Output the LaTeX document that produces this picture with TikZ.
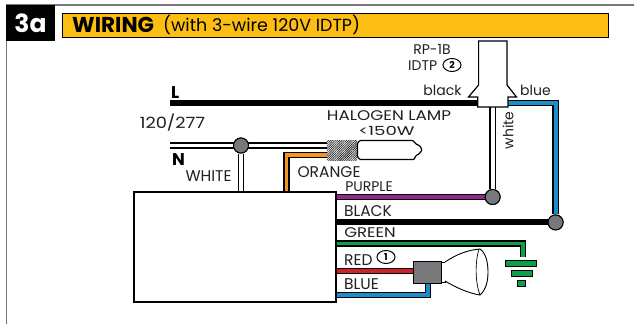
\documentclass[tikz,border=0pt]{standalone}
\usepackage{fontspec}
\setmainfont{Poppins}
\usetikzlibrary{patterns.meta,calc,shapes.geometric}
\definecolor{barY}{HTML}{FDBE14}
\definecolor{wOrange}{HTML}{F7941D}
\definecolor{wPurple}{HTML}{92278F}
\definecolor{wGreen}{HTML}{0F9D4A}
\definecolor{wRed}{HTML}{D2202A}
\definecolor{wBlue}{HTML}{1C8CCB}
\definecolor{jGray}{HTML}{77787B}
\definecolor{txt}{HTML}{231F20}
\tikzset{
  x=1pt,y=-1pt,
  wire/.style={line cap=butt,line join=miter,draw=black,line width=1.2pt,double=#1,double distance=3.9pt},
  heavy/.style={line cap=butt,draw=black,line width=6pt},
  junction/.style={circle,draw=black,line width=1pt,fill=jGray,minimum size=15pt,inner sep=0pt},
  lbl/.style={inner sep=0pt,text=txt,font=\fontsize{15.5}{16}\selectfont},
  lbs/.style={inner sep=0pt,text=txt,font=\fontsize{14}{14}\selectfont},
  boldlbl/.style={inner sep=0pt,text=black,font=\fontsize{17}{17}\selectfont\bfseries},
  numcirc/.style={ellipse,draw=black,line width=1pt,minimum width=18pt,minimum height=13pt,inner sep=0pt,font=\fontsize{9.5}{9.5}\selectfont\bfseries},
  gbar/.style={draw=black,line width=1pt,fill=wGreen,inner sep=0pt},
  solid box/.style={draw=black,line width=1.6pt,fill=white,inner sep=0pt},
}
\begin{document}
\begin{tikzpicture}
\useasboundingbox (0,0) rectangle (634,324);
\fill[white] (0,0) rectangle (634,324);
% frame
\draw[draw=jGray,line width=1.1pt] (6.5,324) -- (6.5,5) -- (634,5);
\node[fill=black,minimum width=49pt,minimum height=36pt,inner sep=0pt,anchor=north west] (tag) at (6,5) {};
\node[text=white,inner sep=0pt,font=\fontsize{25}{25}\selectfont\bfseries] (taglbl) at (30.5,23) {3a};
\node[fill=barY,draw=black,line width=1.6pt,minimum width=546pt,minimum height=24pt,inner sep=0pt,anchor=north west] (bar) at (61.8,12.5) {};
\node[anchor=west,inner sep=0pt,text=black,font=\fontsize{21.5}{22}\selectfont\bfseries] (title) at (72,25) {WIRING};
\node[anchor=west,inner sep=0pt,text=black,font=\fontsize{17.5}{18}\selectfont] (title2) at (163,25) {(with 3-wire 120V IDTP)};
% anchors
\node[solid box,minimum width=202pt,minimum height=110pt,anchor=north west] (ctrl) at (133,191) {};
\node[junction] (jN) at (241,145.5) {};
\node[junction] (jP) at (492.6,197) {};
\node[junction] (jB) at (555.6,222.4) {};
\coordinate (Lstart) at (170,103);
\coordinate (Nstart) at (170,145.5);
\coordinate (plugL) at (480,103);
\coordinate (plugR) at (506,103);
\coordinate (plugB) at (492.6,106);
\coordinate (cerN) at (327,145.5);
\coordinate (cerO) at (327,155);
\coordinate (oTurn) at (286.5,155);
\coordinate (gTurn) at (523,243.5);
\coordinate (gEnd) at (523,257);
\coordinate (rEnd) at (413,271.3);
\coordinate (bTurn) at (428,295.3);
\coordinate (bEnd) at (428,282);
\coordinate (bcTurn) at (555.6,103);
% wires
\draw[heavy] (Lstart) -- (plugL);
\draw[wire=white] (Nstart) -- (cerN);
\draw[wire=white] (jN) -- (jN |- ctrl.north);
\draw[wire=wOrange] (oTurn |- ctrl.north) -- (oTurn) -- (cerO);
\draw[wire=white] (plugB) -- (jP);
\draw[wire=wBlue] (plugR) -- (bcTurn) -- (jB);
\draw[wire=wPurple] (ctrl.east |- jP) -- (jP);
\draw[heavy] (ctrl.east |- jB) -- (jB);
\draw[wire=wGreen] (ctrl.east |- gTurn) -- (gTurn) -- (gEnd);
\draw[wire=wRed] (ctrl.east |- rEnd) -- (rEnd);
\draw[wire=wBlue] (ctrl.east |- bTurn) -- (bTurn) -- (bEnd);
\node[junction] at (jN) {};
\node[junction] at (jP) {};
\node[junction] at (jB) {};
% plug
\draw[draw=black,line width=1.2pt,fill=white,line join=miter]
  (478.6,41) -- (507,41) -- (507,85) -- (516.5,97) -- (508,97) -- (508,107) -- (477.7,107) -- (477.7,97) -- (468.5,97) -- (478.6,85) -- cycle;
% halogen lamp
\node[minimum width=30pt,minimum height=20pt,inner sep=0pt,anchor=north west,fill=gray!45,pattern={Lines[angle=45,distance=1.6pt,line width=.75pt]},pattern color=black!85] (cer) at (326.5,140) {};
\draw[draw=black,line width=1.2pt,fill=white,rounded corners=.8pt]
  (360,140.5) -- (413,140.5) -- (416,144) -- (420,146) -- (422,150) -- (419,154) -- (416,155.5) -- (414,159.5) -- (360,159.5) -- (357.5,157) -- (357.5,143) -- cycle;
% bulb
\draw[draw=black,line width=.9pt,fill=white] (441,262) rectangle (445,282);
\draw[draw=black,line width=.9pt,fill=white]
  (445,262) .. controls (457,254) and (468,250) .. (480,249)
  .. controls (486,253) and (488,263) .. (488,272)
  .. controls (488,281) and (486,290) .. (480,295)
  .. controls (468,293) and (457,288) .. (445,281);
\draw[draw=black,line width=.7pt] (479,249) .. controls (475,262) and (475,282) .. (480,295);
\node[draw=black,line width=1.2pt,fill=jGray,minimum width=28pt,minimum height=22pt,inner sep=0pt,anchor=north west] (sock) at (412.5,260.7) {};
% ground
\node[gbar,minimum width=31pt,minimum height=6.5pt] (g1) at (521.3,263.3) {};
\node[gbar,minimum width=21pt,minimum height=6pt] (g2) at (521.5,273.8) {};
\node[gbar,minimum width=8pt,minimum height=6pt] (g3) at (521.5,283.6) {};
% labels
\node[boldlbl,anchor=west] (tL) at (171,92.5) {L};
\node[boldlbl,anchor=west] (tN) at (172,160) {N};
\node[lbl,xscale=1.15] (t120) at (172.5,123) {120/277};
\node[lbl] (tW) at (208.5,176) {WHITE};
\node[lbl] (tO) at (329,172) {ORANGE};
\node[lbs] (tP) at (369,187) {PURPLE};
\node[lbl] (tBk) at (368,211) {BLACK};
\node[lbs,xscale=1.18] (tG) at (370,232.5) {GREEN};
\node[lbl,anchor=west] (tR) at (344,260) {RED};
\node[numcirc] (n1) at (386,257) {1};
\node[lbl,anchor=west] (tBu) at (344,284) {BLUE};
\node[lbs,xscale=1.2] (tH) at (389,116) {HALOGEN LAMP};
\node[inner sep=0pt,text=txt,font=\fontsize{12.5}{13}\selectfont,xscale=1.45] (t150) at (386.5,131) {<150W};
\node[lbs] (tRP) at (432,49.5) {RP-1B};
\node[lbs,anchor=west] (tI) at (408,66) {IDTP};
\node[numcirc] (n2) at (452,65) {2};
\node[lbs] (tbk) at (442.5,90) {black};
\node[lbs] (tbu) at (535.5,90) {blue};
\node[lbs,rotate=90] (twh) at (508,130.5) {white};
\end{tikzpicture}
\end{document}
